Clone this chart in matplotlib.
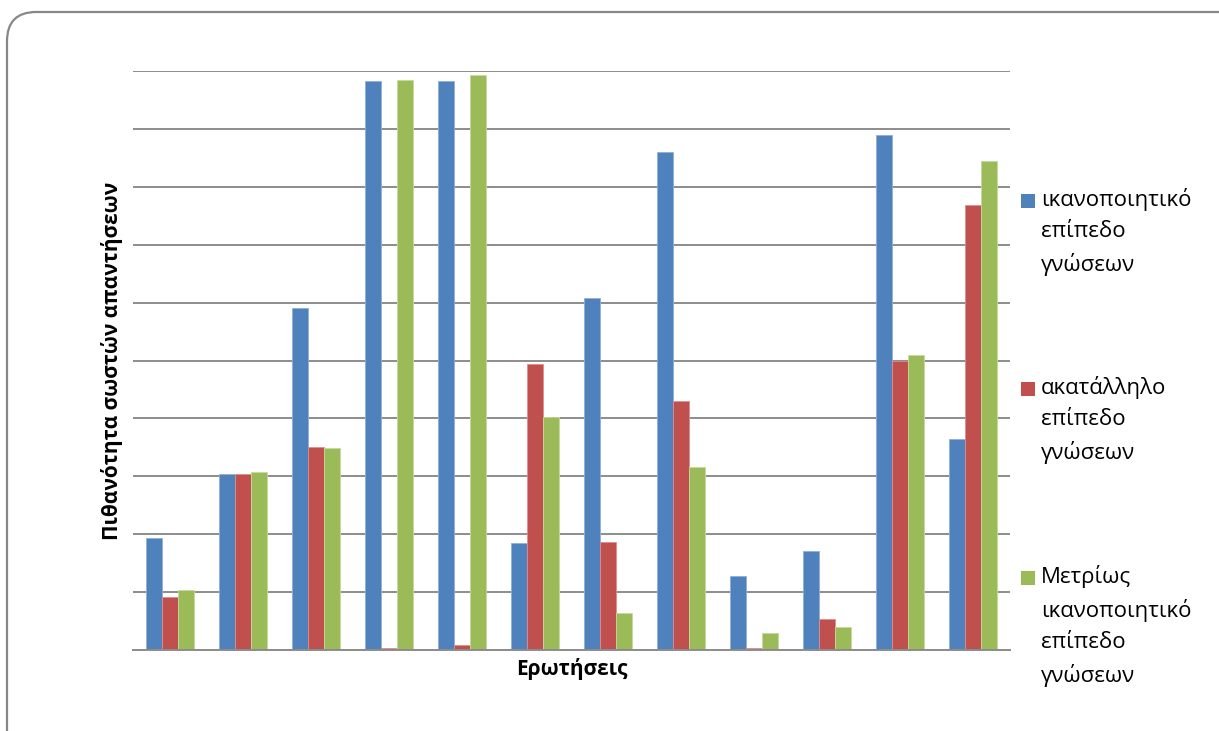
import matplotlib.pyplot as plt
from matplotlib.patches import FancyBboxPatch, Rectangle
import numpy as np

plt.rcParams['font.family'] = ['Open Sans', 'DejaVu Sans']

# probability of a correct answer per question, by knowledge level
QUESTIONS = list(range(1, 13))
SATISFACTORY = [0.193, 0.304, 0.591, 0.983, 0.983, 0.185,
                0.608, 0.860, 0.128, 0.171, 0.889, 0.364]
INADEQUATE = [0.092, 0.304, 0.351, 0.003, 0.009, 0.494,
              0.187, 0.430, 0.003, 0.054, 0.500, 0.769]
MODERATE = [0.104, 0.307, 0.349, 0.984, 0.993, 0.402,
            0.064, 0.316, 0.029, 0.040, 0.509, 0.845]

SERIES = [
    ('ικανοποιητικό\nεπίπεδο\nγνώσεων', SATISFACTORY, '#4F81BD', '#8EAEDA'),
    ('ακατάλληλο\nεπίπεδο\nγνώσεων', INADEQUATE, '#C0504D', '#DD8E8C'),
    ('Μετρίως\nικανοποιητικό\nεπίπεδο\nγνώσεων', MODERATE, '#9BBB59', '#C6DA9E'),
]

W, H = 1219, 731
fig = plt.figure(figsize=(W / 100, H / 100), dpi=100)

# rounded outer frame, running off the right and bottom edges
frame = FancyBboxPatch((7 / W, -0.05), 1.2, (H - 12) / H + 0.05,
                       boxstyle='round,pad=0,rounding_size=0.024',
                       transform=fig.transFigure, facecolor='white',
                       edgecolor='#878787', linewidth=1.6, zorder=-5,
                       mutation_aspect=W / H)
fig.patches.append(frame)

ax = fig.add_axes([133 / W, (H - 650) / H, (1010 - 133) / W, (650 - 71) / H])
ax.set_facecolor('none')
ax.set_zorder(2)

x = np.arange(len(QUESTIONS))
bw = 0.219
for i, (label, vals, color, edge) in enumerate(SERIES):
    ax.bar(x + (i - 1) * bw, vals, width=bw, color=color,
           edgecolor=edge, linewidth=0.6, zorder=3)

ax.set_xlim(-0.5, len(QUESTIONS) - 0.5)
ax.set_ylim(0, 1.0)
ax.set_yticks(np.arange(0, 1.01, 0.1))
ax.set_yticklabels([])
ax.set_xticks([])
ax.tick_params(axis='y', length=0)
ax.grid(axis='y', color='#8C8C8C', linewidth=1.4, zorder=1)
ax.set_axisbelow(True)
for side in ['top', 'right', 'left']:
    ax.spines[side].set_visible(False)
ax.spines['bottom'].set_color('#8C8C8C')
ax.spines['bottom'].set_linewidth(1.4)
ax.spines['bottom'].set_zorder(4)

ax.set_ylabel('Πιθανότητα σωστών απαντήσεων', fontsize=15,
              fontweight='bold')
ax.yaxis.set_label_coords(-10 / 877, 0.5)
ax.set_xlabel('Ερωτήσεις', fontsize=15, fontweight='bold', labelpad=6)

# legend drawn by hand so each swatch sits on the first text line
first_lines = [201, 389, 578]
for (label, vals, color, edge), ty in zip(SERIES, first_lines):
    fig.patches.append(Rectangle((1021 / W, (H - ty - 7) / H), 14 / W, 14 / H,
                                 transform=fig.transFigure, facecolor=color,
                                 edgecolor='none', zorder=3))
    fig.text(1041 / W, (H - ty + 13) / H, label, fontsize=16, va='top',
             ha='left', linespacing=1.62, color='#000000',
             transform=fig.transFigure, zorder=3)

fig.savefig('out.png', dpi=100)
